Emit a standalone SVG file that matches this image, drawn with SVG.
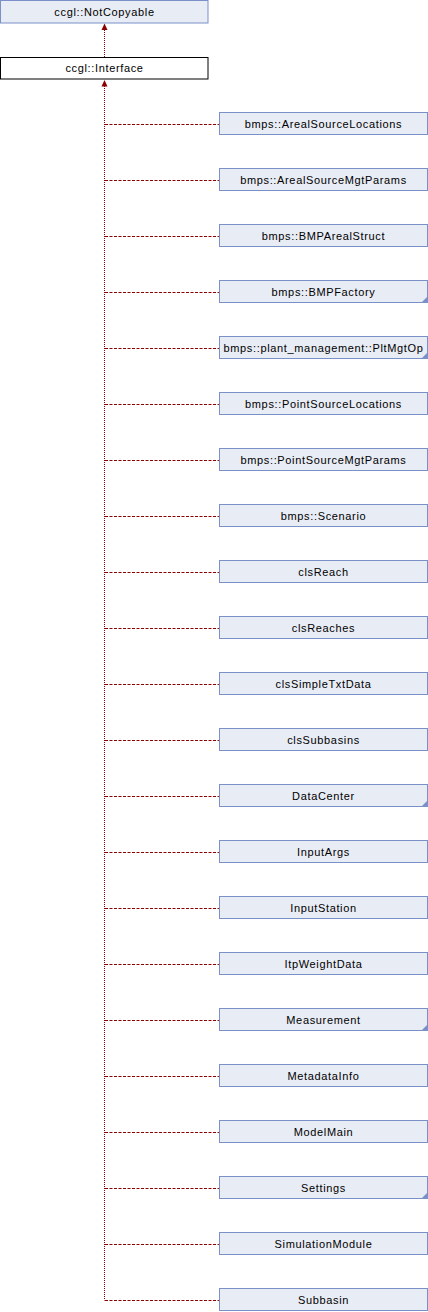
<svg xmlns="http://www.w3.org/2000/svg" width="428" height="1312" viewBox="0 0 428 1312">
<style>
.box{fill:#E8ECF5;stroke:#7B90C8;stroke-width:1}
.top{fill:#FFFFFF;stroke:#000000;stroke-width:1}
.t{font-family:"Liberation Sans",Arial,sans-serif;font-size:11px;letter-spacing:0.65px;fill:#000000;text-anchor:middle}
.fold{fill:#7B90C8}
.v{stroke:#8B0000;stroke-width:1;fill:none;stroke-dasharray:1,1}
.h{stroke:#8B0000;stroke-width:1;fill:none;stroke-dasharray:3,1.5}
.ah{fill:#8B0000}
</style>
<rect width="428" height="1312" fill="#FFFFFF"/>
<g id="connectors">
<line class="v" x1="104.5" y1="30" x2="104.5" y2="57"/>
<polygon class="ah" points="104.5,23.5 101.5,30 107.5,30"/>
<line class="v" x1="104.5" y1="86" x2="104.5" y2="1300.5"/>
<polygon class="ah" points="104.5,80 101.5,86.5 107.5,86.5"/>
<line class="h" x1="105" y1="124.5" x2="219" y2="124.5"/>
<line class="h" x1="105" y1="180.5" x2="219" y2="180.5"/>
<line class="h" x1="105" y1="236.5" x2="219" y2="236.5"/>
<line class="h" x1="105" y1="292.5" x2="219" y2="292.5"/>
<line class="h" x1="105" y1="348.5" x2="219" y2="348.5"/>
<line class="h" x1="105" y1="404.5" x2="219" y2="404.5"/>
<line class="h" x1="105" y1="460.5" x2="219" y2="460.5"/>
<line class="h" x1="105" y1="516.5" x2="219" y2="516.5"/>
<line class="h" x1="105" y1="572.5" x2="219" y2="572.5"/>
<line class="h" x1="105" y1="628.5" x2="219" y2="628.5"/>
<line class="h" x1="105" y1="684.5" x2="219" y2="684.5"/>
<line class="h" x1="105" y1="740.5" x2="219" y2="740.5"/>
<line class="h" x1="105" y1="796.5" x2="219" y2="796.5"/>
<line class="h" x1="105" y1="852.5" x2="219" y2="852.5"/>
<line class="h" x1="105" y1="908.5" x2="219" y2="908.5"/>
<line class="h" x1="105" y1="964.5" x2="219" y2="964.5"/>
<line class="h" x1="105" y1="1020.5" x2="219" y2="1020.5"/>
<line class="h" x1="105" y1="1076.5" x2="219" y2="1076.5"/>
<line class="h" x1="105" y1="1132.5" x2="219" y2="1132.5"/>
<line class="h" x1="105" y1="1188.5" x2="219" y2="1188.5"/>
<line class="h" x1="105" y1="1244.5" x2="219" y2="1244.5"/>
<line class="h" x1="105" y1="1300.5" x2="219" y2="1300.5"/>
</g>
<g id="node-NotCopyable"><rect class="box" x="0.5" y="0.5" width="207.5" height="22.5"/><text class="t" x="104.5" y="15.5">ccgl::NotCopyable</text></g>
<g id="node-Interface"><rect class="top" x="0.5" y="57.5" width="207.5" height="21.5"/><text class="t" x="104.5" y="72">ccgl::Interface</text></g>
<g id="node-0"><rect class="box" x="219.5" y="112.5" width="208" height="22"/><text class="t" x="323.5" y="127.5">bmps::ArealSourceLocations</text></g>
<g id="node-1"><rect class="box" x="219.5" y="168.5" width="208" height="22"/><text class="t" x="323.5" y="183.5">bmps::ArealSourceMgtParams</text></g>
<g id="node-2"><rect class="box" x="219.5" y="224.5" width="208" height="22"/><text class="t" x="323.5" y="239.5">bmps::BMPArealStruct</text></g>
<g id="node-3"><rect class="box" x="219.5" y="280.5" width="208" height="22"/><polygon class="fold" points="428,296 428,303 421,303"/><text class="t" x="323.5" y="295.5">bmps::BMPFactory</text></g>
<g id="node-4"><rect class="box" x="219.5" y="336.5" width="208" height="22"/><polygon class="fold" points="428,352 428,359 421,359"/><text class="t" x="323.5" y="351.5">bmps::plant_management::PltMgtOp</text></g>
<g id="node-5"><rect class="box" x="219.5" y="392.5" width="208" height="22"/><text class="t" x="323.5" y="407.5">bmps::PointSourceLocations</text></g>
<g id="node-6"><rect class="box" x="219.5" y="448.5" width="208" height="22"/><text class="t" x="323.5" y="463.5">bmps::PointSourceMgtParams</text></g>
<g id="node-7"><rect class="box" x="219.5" y="504.5" width="208" height="22"/><text class="t" x="323.5" y="519.5">bmps::Scenario</text></g>
<g id="node-8"><rect class="box" x="219.5" y="560.5" width="208" height="22"/><text class="t" x="323.5" y="575.5">clsReach</text></g>
<g id="node-9"><rect class="box" x="219.5" y="616.5" width="208" height="22"/><text class="t" x="323.5" y="631.5">clsReaches</text></g>
<g id="node-10"><rect class="box" x="219.5" y="672.5" width="208" height="22"/><text class="t" x="323.5" y="687.5">clsSimpleTxtData</text></g>
<g id="node-11"><rect class="box" x="219.5" y="728.5" width="208" height="22"/><text class="t" x="323.5" y="743.5">clsSubbasins</text></g>
<g id="node-12"><rect class="box" x="219.5" y="784.5" width="208" height="22"/><polygon class="fold" points="428,800 428,807 421,807"/><text class="t" x="323.5" y="799.5">DataCenter</text></g>
<g id="node-13"><rect class="box" x="219.5" y="840.5" width="208" height="22"/><text class="t" x="323.5" y="855.5">InputArgs</text></g>
<g id="node-14"><rect class="box" x="219.5" y="896.5" width="208" height="22"/><text class="t" x="323.5" y="911.5">InputStation</text></g>
<g id="node-15"><rect class="box" x="219.5" y="952.5" width="208" height="22"/><text class="t" x="323.5" y="967.5">ItpWeightData</text></g>
<g id="node-16"><rect class="box" x="219.5" y="1008.5" width="208" height="22"/><polygon class="fold" points="428,1024 428,1031 421,1031"/><text class="t" x="323.5" y="1023.5">Measurement</text></g>
<g id="node-17"><rect class="box" x="219.5" y="1064.5" width="208" height="22"/><text class="t" x="323.5" y="1079.5">MetadataInfo</text></g>
<g id="node-18"><rect class="box" x="219.5" y="1120.5" width="208" height="22"/><text class="t" x="323.5" y="1135.5">ModelMain</text></g>
<g id="node-19"><rect class="box" x="219.5" y="1176.5" width="208" height="22"/><polygon class="fold" points="428,1192 428,1199 421,1199"/><text class="t" x="323.5" y="1191.5">Settings</text></g>
<g id="node-20"><rect class="box" x="219.5" y="1232.5" width="208" height="22"/><text class="t" x="323.5" y="1247.5">SimulationModule</text></g>
<g id="node-21"><rect class="box" x="219.5" y="1288.5" width="208" height="22"/><text class="t" x="323.5" y="1303.5">Subbasin</text></g>
</svg>
